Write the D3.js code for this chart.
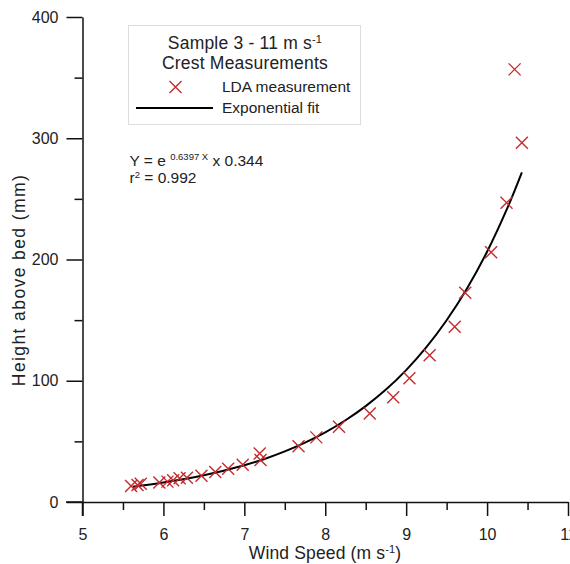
<!DOCTYPE html>
<html><head><meta charset="utf-8">
<script src="https://cdn.jsdelivr.net/npm/d3@7"></script>
<style>body{margin:0;background:#fff}svg{display:block;font-family:"Liberation Sans",Arial,sans-serif}</style>
</head><body>
<svg id="c" width="570" height="564"></svg>
<script>
const windSpeed = [5.60,5.68,5.72,5.95,6.05,6.12,6.20,6.29,6.47,6.64,6.80,6.98,7.19,7.20,7.67,7.89,8.17,8.55,8.84,9.04,9.29,9.60,9.73,10.05,10.24,10.34,10.43];
const height    = [13.2,14.0,15.0,16.0,16.8,18.0,19.5,20.0,21.7,24.7,27.5,30.8,40.0,34.6,46.0,53.3,62.0,73.0,86.3,102,121,144.6,172.6,206,246.9,356.8,296.3];
const fitX = [5.62,6,6.5,7,7.25,7.5,7.75,8,8.25,8.5,8.75,9,9.25,9.5,9.75,10,10.25,10.43];
const fitY = [12.5,16.0,22.0,30.3,35.5,41.7,48.9,57.4,67.4,79.1,92.7,108.8,127.7,149.9,175.9,206.4,242.3,271.9];
const xTicks = [5,6,7,8,9,10,11];
const yTicks = [0,100,200,300,400];

const svg = d3.select("#c");
const x = d3.scaleLinear().domain([5,11]).range([82.5,568]);
const y = d3.scaleLinear().domain([0,400]).range([502,17]);

// axes
const xAxis = svg.append("g").attr("transform","translate(0,502)")
  .call(d3.axisBottom(x).tickValues(xTicks).tickSize(14).tickSizeOuter(0).tickPadding(12.6).tickFormat(d3.format("d")));
svg.append("g").attr("transform","translate(0,502)")
  .call(d3.axisBottom(x).tickValues(d3.range(5.5,11,1)).tickSize(8).tickFormat("")).select(".domain").remove();
const yAxis = svg.append("g").attr("transform","translate(82.5,0)")
  .call(d3.axisLeft(y).tickValues(yTicks).tickSize(16).tickSizeOuter(0).tickPadding(8));
svg.append("g").attr("transform","translate(82.5,0)")
  .call(d3.axisLeft(y).tickValues([50,150,250,350]).tickSize(8).tickFormat("")).select(".domain").remove();
svg.selectAll(".tick line, .domain").attr("stroke","#111").attr("stroke-width",1.5);
xAxis.selectAll("text").attr("font-size",16).attr("fill","#222").attr("font-family","Liberation Sans, Arial");
yAxis.selectAll("text").attr("font-size",16).attr("fill","#222").attr("font-family","Liberation Sans, Arial").attr("dy","0.32em");
svg.append("line").attr("x1",66).attr("x2",82.5).attr("y1",502).attr("y2",502).attr("stroke","#111").attr("stroke-width",1.5);
svg.append("line").attr("x1",82.5).attr("x2",82.5).attr("y1",502).attr("y2",516).attr("stroke","#111").attr("stroke-width",1.5);

// labels
svg.append("text").attr("x",325).attr("y",559).attr("text-anchor","middle").attr("font-size",17.5).attr("letter-spacing",0.15).attr("fill","#222")
  .html('Wind Speed (m s<tspan dy="-6.5" font-size="11">-1</tspan><tspan dy="6.5">)</tspan>');
svg.append("text").attr("transform","translate(25,280) rotate(-90)").attr("text-anchor","middle").attr("font-size",17.5).attr("letter-spacing",1.4).attr("fill","#222")
  .text("Height above bed (mm)");

// fit line
svg.append("path").datum(fitX.map((v,i)=>[v,fitY[i]]))
  .attr("d", d3.line().x(d=>x(d[0])).y(d=>y(d[1])).curve(d3.curveCatmullRom))
  .attr("fill","none").attr("stroke","#000").attr("stroke-width",2);

// markers
const s = 6;
const mk = svg.append("g").attr("stroke","#c42b2f").attr("stroke-width",1.4).attr("fill","none");
windSpeed.forEach((v,i)=>{
  const cx=x(v), cy=y(height[i]);
  mk.append("path").attr("d",`M${cx-s},${cy-s}L${cx+s},${cy+s}M${cx-s},${cy+s}L${cx+s},${cy-s}`);
});

// legend
const lg = svg.append("g");
lg.append("rect").attr("x",128.5).attr("y",25.5).attr("width",232).attr("height",99).attr("fill","#fff").attr("stroke","#ddd").attr("stroke-width",1);
lg.append("text").attr("x",245).attr("y",49).attr("text-anchor","middle").attr("font-size",17.5).attr("letter-spacing",0.2).attr("fill","#222")
  .html('Sample 3 - 11 m s<tspan dy="-6.5" font-size="11">-1</tspan>');
lg.append("text").attr("x",245).attr("y",69).attr("text-anchor","middle").attr("font-size",17.5).attr("letter-spacing",0.2).attr("fill","#222").text("Crest Measurements");
lg.append("path").attr("d",`M${175.5-s},${87-s}L${175.5+s},${87+s}M${175.5-s},${87+s}L${175.5+s},${87-s}`).attr("stroke","#c42b2f").attr("stroke-width",1.4);
lg.append("text").attr("x",222).attr("y",92).attr("font-size",15.5).attr("fill","#222").text("LDA measurement");
lg.append("line").attr("x1",136).attr("x2",213).attr("y1",108).attr("y2",108).attr("stroke","#000").attr("stroke-width",2);
lg.append("text").attr("x",222).attr("y",113).attr("font-size",15.5).attr("fill","#222").text("Exponential fit");

// equation
svg.append("text").attr("x",129.5).attr("y",165.5).attr("font-size",15.5).attr("fill","#222")
  .html('Y = e <tspan dy="-6" font-size="9.5">0.6397 X</tspan><tspan dy="6"> x 0.344</tspan>');
svg.append("text").attr("x",129.5).attr("y",183).attr("font-size",15.5).attr("fill","#222")
  .html('r<tspan dy="-5.5" font-size="9.5">2</tspan><tspan dy="5.5"> = 0.992</tspan>');
</script>
</body></html>
